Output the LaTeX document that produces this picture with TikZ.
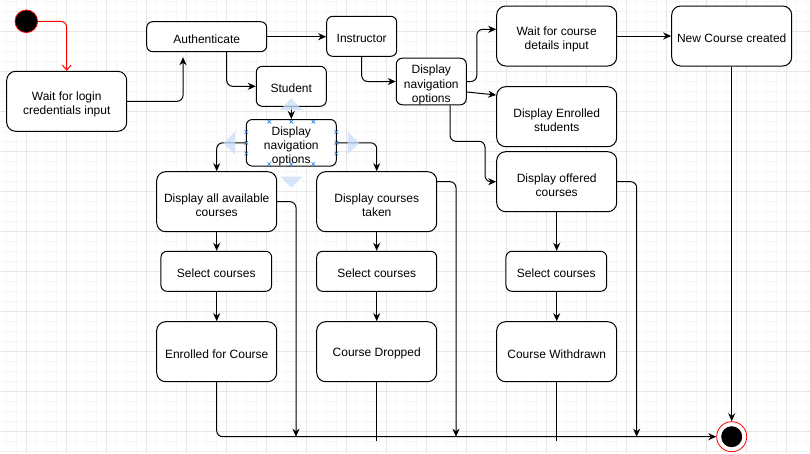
\documentclass[tikz,border=0pt]{standalone}
\usepackage{fontspec}
\setmainfont{Liberation Sans}
\usetikzlibrary{arrows.meta}
\definecolor{gridmin}{RGB}{246,246,246}
\definecolor{gridmaj}{RGB}{230,230,230}
\definecolor{handle}{RGB}{200,222,248}
\definecolor{xblue}{RGB}{30,120,220}
\newcommand\mup{\rule{0pt}{15.5pt}}
\begin{document}
\begin{tikzpicture}[x=1pt,y=-1pt,
  box/.style={draw, line width=1pt, rounded corners=9pt, align=center, inner sep=0pt,
              font=\fontsize{12}{14.3}\selectfont, fill=white,
              execute at begin node={\rule{0pt}{13pt}}},
  sbox/.style={box, rounded corners=6pt},
  arr/.style={line width=1pt, rounded corners=6pt, -{Stealth[length=8pt,width=7pt,inset=2.5pt]}},
  ln/.style={line width=1pt, rounded corners=6pt},
  hnd/.style={fill=handle, opacity=0.75},
  xm/.style={draw=xblue, line width=0.6pt},
]
\useasboundingbox (0,0) rectangle (810,453);
\fill[white] (0,0) rectangle (810,453);
% grid
\foreach \i in {0,...,80} \draw[gridmin, line width=0.6pt] ({6.7+10*\i},0) -- ++(0,453);
\foreach \j in {0,...,45} \draw[gridmin, line width=0.6pt] (0,{1.7+10*\j}) -- ++(810,0);
\foreach \i in {0,...,20} \draw[gridmaj, line width=0.7pt] ({26.7+40*\i},0) -- ++(0,453);
\foreach \j in {0,...,11} \draw[gridmaj, line width=0.7pt] (0,{31.7+40*\j}) -- ++(810,0);

% nodes
\node[circle, fill=black, draw=red, line width=0.8pt, minimum size=22.6pt, inner sep=0pt] (start) at (26.3,21.3) {};
\node[box, minimum width=120pt, minimum height=60pt] (wlogin) at (66.7,101.3) {\mup Wait for login\\credentials input};
\node[sbox, minimum width=120pt, minimum height=30pt] (auth) at (206.7,36.7) {Authenticate};
\node[sbox, minimum width=70pt, minimum height=40pt] (instr) at (361.7,36.3) {Instructor};
\node[sbox, minimum width=70pt, minimum height=40pt] (stud) at (291.3,86.3) {Student};
\node[sbox, minimum width=90pt, minimum height=43pt] (navS) at (291.3,142.8) {\mup Display\\navigation\\options};
\node[sbox, minimum width=70pt, minimum height=45pt] (navI) at (431.3,81.5) {\mup Display\\navigation\\options};
\node[box, minimum width=120pt, minimum height=60pt] (waitc) at (556.7,36) {\mup Wait for course\\details input};
\node[box, minimum width=120pt, minimum height=60pt] (newc) at (731.7,36) {New Course created};
\node[box, minimum width=120pt, minimum height=60pt] (enr) at (556.7,116.7) {\mup Display Enrolled\\students};
\node[box, minimum width=120pt, minimum height=60pt] (offer) at (556.7,181.7) {\mup Display offered\\courses};
\node[box, minimum width=120pt, minimum height=60pt] (all) at (216.7,201.7) {\mup Display all available\\courses};
\node[box, minimum width=120pt, minimum height=60pt] (taken) at (376.7,201.7) {\mup Display courses\\taken};
\node[sbox, minimum width=110.7pt, minimum height=40pt] (sel1) at (216.3,271.3) {Select courses};
\node[sbox, minimum width=120pt, minimum height=40pt] (sel2) at (376.7,271.3) {Select courses};
\node[sbox, minimum width=100.7pt, minimum height=40pt] (sel3) at (556.3,271.3) {Select courses};
\node[box, minimum width=120pt, minimum height=60pt] (enrc) at (216.7,351.7) {Enrolled for Course};
\node[box, minimum width=120pt, minimum height=60pt] (drop) at (376.7,351.7) {Course Dropped};
\node[box, minimum width=120pt, minimum height=60pt] (wdr) at (556.7,351.7) {Course Withdrawn};
\node[circle, draw=red, fill=white, line width=0.8pt, minimum size=30pt, inner sep=0pt] (end) at (731.7,436.7) {};
\fill[black] (end.center) circle (10.5pt);

\coordinate (b1) at (296,436.7);
\coordinate (b2) at (456,436.7);
\coordinate (b3) at (636.7,436.7);
\coordinate (d1) at (376.7,440.5);
\coordinate (d2) at (556.7,440.5);

% connectors
\draw[red, line width=1pt, rounded corners=6pt, -{Straight Barb[length=5pt,width=9pt]}] (start.east) -| (wlogin.north);
\draw[arr, shorten >=5pt] (wlogin.east) -| ([xshift=-23.7pt]auth.south);
\draw[arr] (auth.east) -- (auth.east -| instr.west);
\draw[arr] ([xshift=20pt]auth.south) |- (stud.west);
\draw[arr] (instr.south) |- (navI.west);
\draw[arr] (navI.east) -- ++(10,0) |- ([yshift=6.7pt]waitc.west);
\draw[arr] ([yshift=-10.5pt]navI.east) -- ([yshift=21.7pt]enr.west);
\draw[arr] ([xshift=18.7pt]navI.south) -- ++(0,36) -- ++(35,0) |- (offer.west);
\draw[arr] (waitc.east) -- (newc.west);
\draw[arr] (newc.south) -- (end.north);
\draw[arr] (stud.south) -- (navS.north);
\draw[arr] (navS.west) -| (all.north);
\draw[arr] (navS.east) -| (taken.north);
\draw[arr] (all.south) -- (all.south |- sel1.north);
\draw[arr] (sel1.south -| enrc.north) -- (enrc.north);
\draw[arr] (taken.south) -- (sel2.north);
\draw[arr] (sel2.south) -- (drop.north);
\draw[arr] (offer.south) -- (offer.south |- sel3.north);
\draw[arr] (sel3.south -| wdr.north) -- (wdr.north);
\draw[arr] (enrc.south) |- (end.west);
\draw[arr] (all.east) -| (b1);
\draw[arr] ([yshift=20pt]taken.east) -| (b2);
\draw[arr] (offer.east) -| (b3);
\draw[ln] (drop.south) -- (d1);
\draw[ln] (wdr.south) -- (d2);

% selection handles
\fill[hnd] (291.3,98.3) -- (280,110) -- (302.6,110) -- cycle;
\fill[hnd] (291.3,187.5) -- (280,176.5) -- (302.6,176.5) -- cycle;
\fill[hnd] (223.5,143) -- (235,131.5) -- (235,154.5) -- cycle;
\fill[hnd] (359,143) -- (347.5,131.5) -- (347.5,154.5) -- cycle;
\foreach \p in {(269.3,121.7),(291.3,121.7),(313.3,121.7),(269.3,164),(291.3,164),(313.3,164),
                (246.3,132),(246.3,142.8),(246.3,153.5),(336.3,132),(336.3,142.8),(336.3,153.5)}
  \draw[xm] \p +(-1.8,-1.8) -- +(1.8,1.8) +(-1.8,1.8) -- +(1.8,-1.8);
\end{tikzpicture}
\end{document}
